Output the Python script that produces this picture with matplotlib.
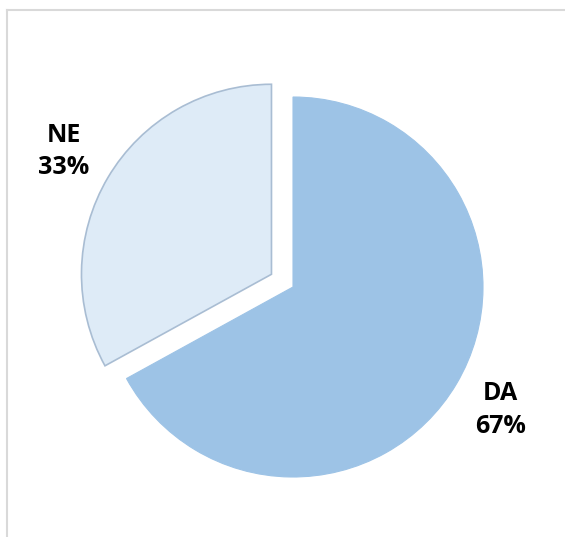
import matplotlib.pyplot as plt
from matplotlib.lines import Line2D

# Datos del gráfico
kategorije = ['DA', 'NE']
postotci = [67, 33]
boje = ['#9dc3e6', '#deebf7']

plt.rcParams['font.family'] = ['Open Sans', 'DejaVu Sans']

fig = plt.figure(figsize=(5.65, 5.37), dpi=100)
ax = fig.add_axes([0, 0, 1, 1])

etikete = [f'{k}\n{p}%' for k, p in zip(kategorije, postotci)]
wedges, texts = ax.pie(postotci, labels=etikete, colors=boje,
                       startangle=90, counterclock=False,
                       explode=[0, 25], center=(293, 250), radius=190,
                       labeldistance=1.27, frame=True,
                       textprops=dict(fontsize=18, fontweight='bold',
                                      color='black', ha='center',
                                      va='center', linespacing=1.4))
ax.set_xlim(0, 565)
ax.set_ylim(0, 537)
ax.set_aspect('equal')
ax.axis('off')

wedges[0].set_edgecolor('#9dc3e6')
wedges[0].set_linewidth(0.8)
wedges[1].set_edgecolor('#a9bdd3')
wedges[1].set_linewidth(1.2)

# Borde del área del gráfico (solo lados izquierdo y superior visibles)
fig.add_artist(Line2D([7 / 565, 7 / 565], [0, 1 - 10 / 537],
                      color='#d9d9d9', lw=1.5, transform=fig.transFigure))
fig.add_artist(Line2D([7 / 565, 1], [1 - 10 / 537, 1 - 10 / 537],
                      color='#d9d9d9', lw=1.5, transform=fig.transFigure))

fig.savefig('out.png', dpi=100)
